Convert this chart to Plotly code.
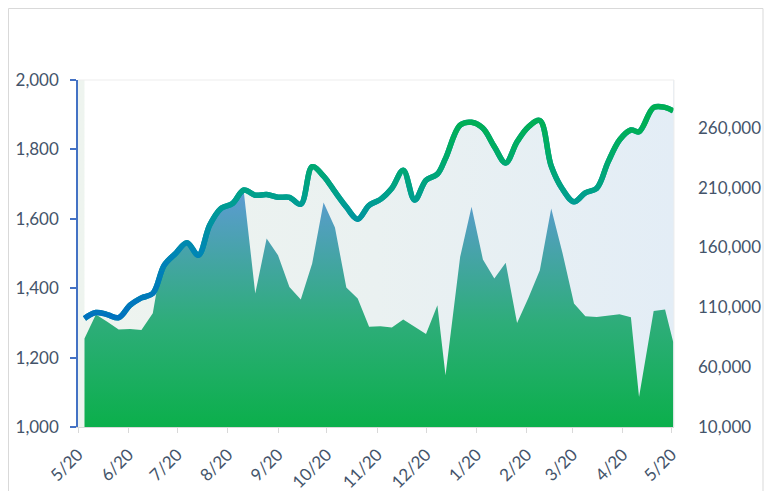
import plotly.graph_objects as go

# ---------------- data ----------------
dates = ["2020-05-24","2020-05-31","2020-06-07","2020-06-14","2020-06-21","2020-06-28",
         "2020-07-05","2020-07-12","2020-07-19","2020-07-26","2020-08-02","2020-08-09",
         "2020-08-16","2020-08-23","2020-08-30","2020-09-06","2020-09-13","2020-09-20",
         "2020-09-27","2020-10-04","2020-10-11","2020-10-18","2020-10-25","2020-11-01",
         "2020-11-08","2020-11-15","2020-11-22","2020-11-29","2020-12-06","2020-12-13",
         "2020-12-20","2020-12-27","2021-01-01","2021-01-10","2021-01-17","2021-01-24",
         "2021-01-31","2021-02-07","2021-02-14","2021-02-21","2021-02-28","2021-03-07",
         "2021-03-14","2021-03-21","2021-03-28","2021-04-04","2021-04-11","2021-04-18",
         "2021-04-25","2021-04-30","2021-05-09","2021-05-16","2021-05-21"]

price = [1313,1330,1324,1315,1351,1372,1385,1466,1500,1531,1495,1582,1630,1644,1683,
         1668,1670,1662,1662,1642,1750,1723,1678,1634,1599,1639,1656,1688,1740,1654,
         1711,1729,1774,1870,1878,1861,1808,1761,1822,1865,1883,1752,1685,1649,1675,
         1688,1764,1827,1856,1851,1921,1921,1911]

volume = [84000,104000,98000,91500,92000,91000,105000,160000,170000,180000,175000,
          195000,205000,205000,206000,121600,167600,153600,127100,116600,146700,197700,
          176800,126600,117400,93700,94200,93100,99800,93700,87700,111800,53200,152200,
          194000,150000,134100,147200,97000,118000,141100,192700,155000,113200,102600,
          102000,103400,104300,101800,35100,107000,108200,81100]

x_tick_dates = ["2020-05-20","2020-06-20","2020-07-20","2020-08-20","2020-09-20",
                "2020-10-20","2020-11-20","2020-12-20","2021-01-20","2021-02-20",
                "2021-03-20","2021-04-20","2021-05-20"]
x_tick_labels = ["5/20","6/20","7/20","8/20","9/20","10/20","11/20","12/20",
                 "1/20","2/20","3/20","4/20","5/20"]
left_ticks = [1000, 1200, 1400, 1600, 1800, 2000]
right_ticks = [10000, 60000, 110000, 160000, 210000, 260000]

# ---------------- style ----------------
X_RANGE = ["2020-05-20", "2021-05-21 12:00"]
LEFT_RANGE = [1000, 2000]
RIGHT_RANGE = [10000, 300000]
FONT = "Lato"
TXT = "#44546A"
LINE_W = 5.5


def line_color(v):
    stops = [(1300, (0, 112, 192)), (1500, (0, 132, 182)), (1650, (0, 158, 145)),
             (1780, (0, 173, 102)), (1900, (0, 176, 80))]
    if v <= stops[0][0]:
        c = stops[0][1]
    elif v >= stops[-1][0]:
        c = stops[-1][1]
    else:
        for (a, ca), (b, cb) in zip(stops[:-1], stops[1:]):
            if a <= v <= b:
                t = (v - a) / (b - a)
                c = tuple(ca[i] + (cb[i] - ca[i]) * t for i in range(3))
                break
    return "rgb(%d,%d,%d)" % tuple(round(k) for k in c)


fig = go.Figure()

# pale background of the plot area (horizontal gradient)
fig.add_trace(go.Scatter(
    x=X_RANGE, y=[RIGHT_RANGE[1], RIGHT_RANGE[1]], yaxis="y", mode="lines",
    line=dict(width=0), fill="tozeroy",
    fillgradient=dict(type="horizontal",
                      colorscale=[[0, "#EEF4EF"], [0.5, "#EAF1F1"], [1, "#E3EDF6"]]),
    hoverinfo="skip"))

# volume area (right axis) with vertical gradient
fig.add_trace(go.Scatter(
    x=dates, y=volume, yaxis="y", mode="lines", line=dict(width=0),
    fill="tozeroy",
    fillgradient=dict(type="vertical", start=RIGHT_RANGE[0], stop=max(volume),
                      colorscale=[[0, "#0BAF4B"], [0.45, "#2EAD7A"], [1, "#5C9BD2"]]),
    hoverinfo="skip"))

# white mask above the price line (left axis)
fig.add_trace(go.Scatter(
    x=dates, y=[LEFT_RANGE[1]] * len(dates), yaxis="y2", mode="lines",
    line=dict(width=0), hoverinfo="skip"))
fig.add_trace(go.Scatter(
    x=dates, y=price, yaxis="y2", mode="lines", fill="tonexty", fillcolor="white",
    line=dict(color=line_color(1600), width=LINE_W, shape="spline", smoothing=1.0),
    hoverinfo="skip"))

# price line with vertical colour gradient: the same line clipped into thin bands
band_lo, band_hi, band_step = 1290, 1940, 10
n_bands = (band_hi - band_lo) // band_step
layout_extra = {}
for j in range(n_bands):
    lo = band_lo + j * band_step
    hi = lo + band_step
    ax_id = 3 + j
    layout_extra["yaxis%d" % ax_id] = dict(
        domain=[(lo - LEFT_RANGE[0]) / (LEFT_RANGE[1] - LEFT_RANGE[0]),
                (hi - LEFT_RANGE[0]) / (LEFT_RANGE[1] - LEFT_RANGE[0])],
        range=[lo, hi], visible=False, anchor="x", fixedrange=True, automargin=False)
    fig.add_trace(go.Scatter(
        x=dates, y=price, xaxis="x", yaxis="y%d" % ax_id, mode="lines",
        line=dict(color=line_color((lo + hi) / 2), width=LINE_W, shape="spline",
                  smoothing=1.0),
        hoverinfo="skip"))

# the page body adds an 8px margin, so the figure is 8px smaller than the window
W, H = 767, 483
ML, MR, MT, MB = 70, 101, 72, 64
PW, PH = W - ML - MR, H - MT - MB


def px(xp):
    return (xp - ML) / PW


def py(yp):
    return (H - MB - yp) / PH


shapes = [
    # outer chart border
    dict(type="rect", xref="paper", yref="paper", x0=px(0.5), x1=px(755), y0=py(520),
         y1=py(0.5), line=dict(color="#D9D9D9", width=1), fillcolor="rgba(0,0,0,0)",
         layer="below"),
    # faint plot-area border (top and right)
    dict(type="line", xref="paper", yref="paper", x0=0, x1=1, y0=1, y1=1,
         line=dict(color="#EDEDED", width=1), layer="above"),
    dict(type="line", xref="paper", yref="paper", x0=1, x1=1, y0=0, y1=1,
         line=dict(color="#EDEDED", width=1), layer="above"),
]

fig.update_layout(
    width=W, height=H,
    margin=dict(l=ML, r=MR, t=MT, b=MB, pad=0, autoexpand=False),
    paper_bgcolor="white", plot_bgcolor="rgba(0,0,0,0)",
    showlegend=False,
    font=dict(family=FONT, size=17, color=TXT),
    shapes=shapes,
    xaxis=dict(type="date", range=X_RANGE, tickvals=x_tick_dates, ticktext=x_tick_labels,
               tickangle=-45, ticks="outside", ticklen=5, tickcolor="#D9D9D9",
               showline=True, linecolor="#D9D9D9", linewidth=1, showgrid=False,
               zeroline=False, anchor="y", tickfont=dict(size=17, color=TXT),
               ticklabelstandoff=5, fixedrange=True, automargin=False),
    yaxis=dict(side="right", range=RIGHT_RANGE, tickvals=right_ticks,
               ticktext=["{:,}".format(v) for v in right_ticks],
               showgrid=False, showline=False, ticks="", zeroline=False,
               ticklabelstandoff=23, tickfont=dict(size=17, color=TXT), fixedrange=True,
               automargin=False),
    yaxis2=dict(overlaying="y", side="left", anchor="x", range=LEFT_RANGE,
                tickvals=left_ticks, ticktext=["{:,}".format(v) for v in left_ticks],
                showline=True, linecolor="#4472C4", linewidth=1.5, ticks="outside",
                ticklen=6, tickcolor="#4472C4", tickwidth=1.5, showgrid=False,
                zeroline=False, ticklabelstandoff=8,
                tickfont=dict(size=17, color=TXT), fixedrange=True, automargin=False),
    **layout_extra,
)

fig.write_html("out.html")
